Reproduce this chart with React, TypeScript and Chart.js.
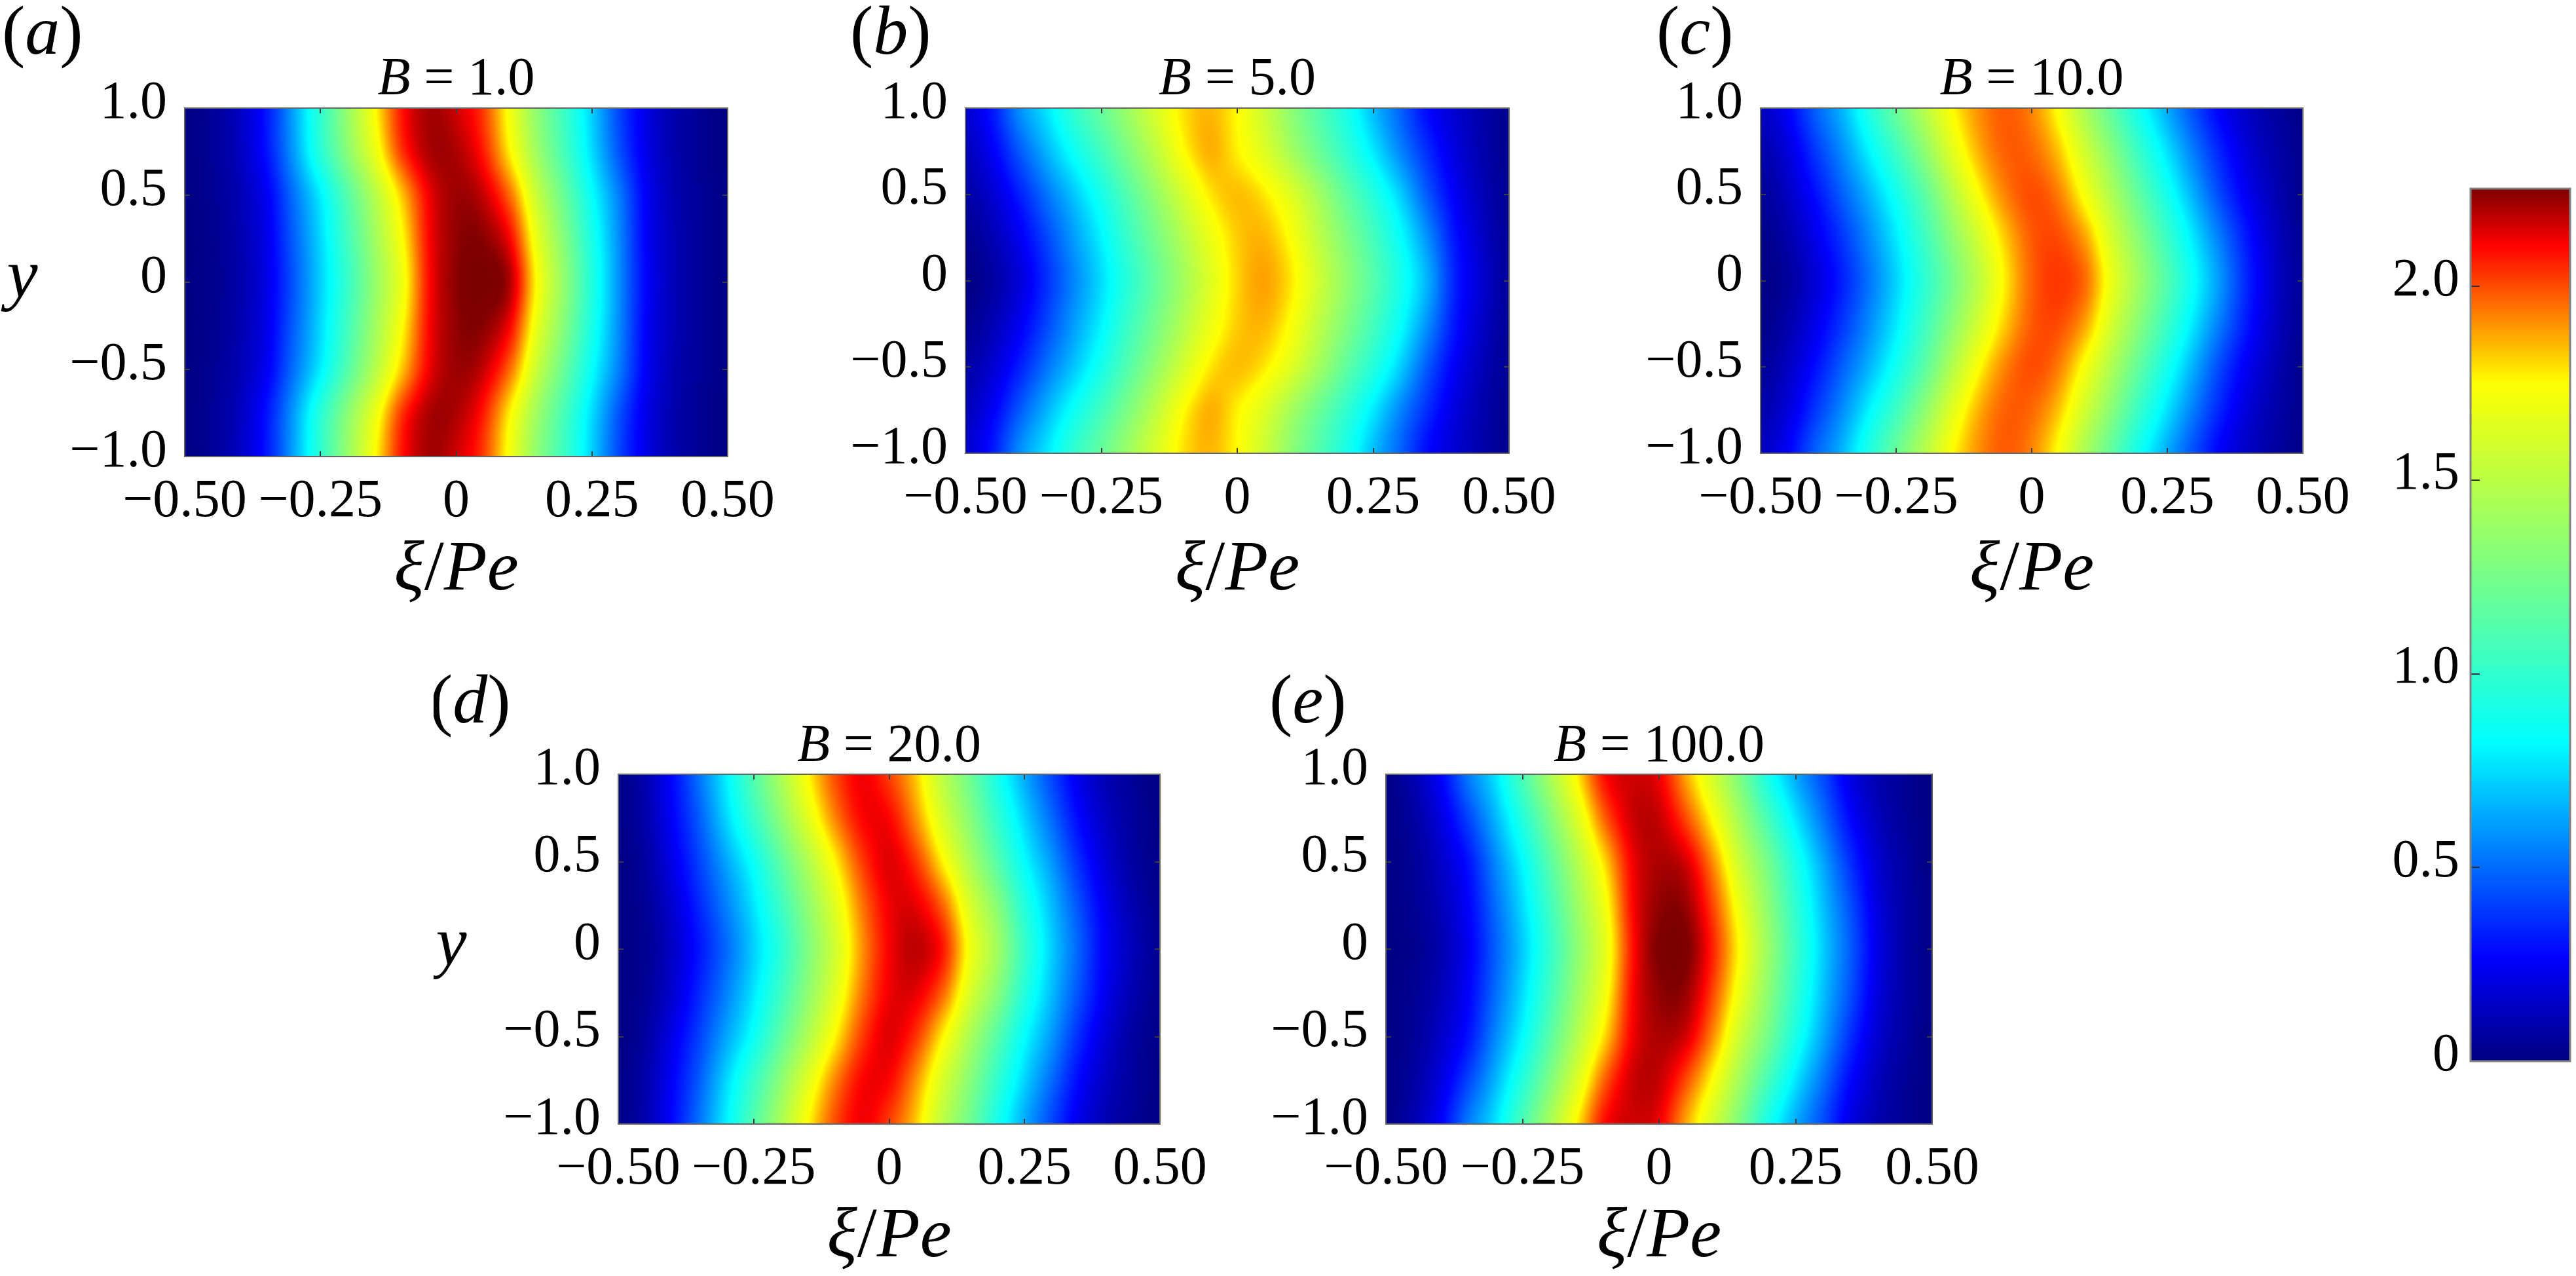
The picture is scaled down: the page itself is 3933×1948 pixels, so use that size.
import React, { useEffect, useRef } from "react";
import { Chart, registerables } from "chart.js";

Chart.register(...registerables);

const FONT = '"Liberation Serif", "Times New Roman", serif';

// xi/Pe positions of the columns
const xiColumns = [-0.5, -0.45, -0.4, -0.35, -0.3, -0.25, -0.2, -0.15, -0.1, -0.05, 0, 0.05, 0.1, 0.15, 0.2, 0.25, 0.3, 0.35, 0.4, 0.45, 0.5];
// y positions of the rows
const yRows = [1, 0.75, 0.5, 0.25, 0, -0.25, -0.5, -0.75, -1];

const xTickValues = [-0.5, -0.25, 0, 0.25, 0.5];
const xTickLabels = ["\u22120.50", "\u22120.25", "0", "0.25", "0.50"];
const yTickValues = [-1, -0.5, 0, 0.5, 1];
const yTickLabels = ["\u22121.0", "\u22120.5", "0", "0.5", "1.0"];
const barTickValues = [0, 0.5, 1, 1.5, 2];
const barTickLabels = ["0", "0.5", "1.0", "1.5", "2.0"];

// colour bar
const colorStopValues = [0, 0.267, 0.822, 1.751, 2.105, 2.252, 2.45];
const colorStopRgb = [
  [0, 0, 128],
  [0, 0, 255],
  [0, 255, 255],
  [255, 255, 0],
  [255, 0, 0],
  [128, 0, 0],
  [100, 0, 0],
];
const barMax = 2.252;

// Panel a, B = 1
const a100 = [0.01, 0.05, 0.14, 0.31, 0.62, 0.99, 1.37, 1.74, 2.08, 2.21, 2.16, 2.02, 1.7, 1.33, 1.03, 0.72, 0.42, 0.21, 0.1, 0.04, 0.01];
const a075 = [0.01, 0.05, 0.13, 0.3, 0.6, 0.96, 1.32, 1.67, 2.03, 2.2, 2.2, 2.07, 1.76, 1.39, 1.07, 0.75, 0.45, 0.22, 0.1, 0.04, 0.01];
const a050 = [0.01, 0.04, 0.11, 0.24, 0.51, 0.79, 1.13, 1.48, 1.83, 2.12, 2.22, 2.17, 1.95, 1.54, 1.19, 0.84, 0.54, 0.25, 0.11, 0.05, 0.01];
const a025 = [0.01, 0.03, 0.1, 0.22, 0.47, 0.74, 1.06, 1.4, 1.74, 2.1, 2.23, 2.24, 2.1, 1.66, 1.29, 0.91, 0.57, 0.26, 0.12, 0.05, 0.01];
const a000 = [0.01, 0.03, 0.09, 0.21, 0.45, 0.72, 1.02, 1.36, 1.69, 2.09, 2.24, 2.28, 2.19, 1.73, 1.34, 0.94, 0.58, 0.27, 0.12, 0.05, 0.01];

// Panel b, B = 5
const b100 = [0.17, 0.32, 0.58, 0.77, 1.0, 1.19, 1.4, 1.61, 1.79, 1.85, 1.75, 1.56, 1.33, 1.12, 0.91, 0.68, 0.48, 0.28, 0.17, 0.09, 0.03];
const b075 = [0.12, 0.25, 0.46, 0.66, 0.86, 1.06, 1.28, 1.51, 1.74, 1.86, 1.77, 1.63, 1.42, 1.21, 1.0, 0.78, 0.56, 0.36, 0.2, 0.1, 0.03];
const b050 = [0.08, 0.17, 0.33, 0.52, 0.7, 0.9, 1.13, 1.36, 1.59, 1.78, 1.84, 1.78, 1.63, 1.41, 1.17, 0.95, 0.72, 0.46, 0.25, 0.12, 0.04];
const b025 = [0.03, 0.11, 0.24, 0.42, 0.61, 0.8, 1.03, 1.25, 1.47, 1.68, 1.82, 1.85, 1.73, 1.51, 1.29, 1.07, 0.84, 0.58, 0.31, 0.15, 0.05];
const b000 = [0.01, 0.07, 0.19, 0.37, 0.56, 0.75, 0.97, 1.19, 1.41, 1.63, 1.81, 1.88, 1.78, 1.57, 1.35, 1.13, 0.9, 0.65, 0.34, 0.17, 0.06];

// Panel c, B = 10
const c100 = [0.13, 0.26, 0.47, 0.66, 0.93, 1.2, 1.47, 1.73, 1.9, 1.98, 1.92, 1.73, 1.43, 1.15, 0.87, 0.64, 0.43, 0.25, 0.14, 0.07, 0.02];
const c075 = [0.09, 0.19, 0.38, 0.57, 0.8, 1.04, 1.32, 1.62, 1.85, 1.97, 1.96, 1.83, 1.57, 1.3, 1.01, 0.76, 0.53, 0.33, 0.18, 0.09, 0.03];
const c050 = [0.05, 0.14, 0.29, 0.47, 0.66, 0.88, 1.14, 1.45, 1.73, 1.92, 2.0, 1.93, 1.71, 1.44, 1.16, 0.89, 0.64, 0.41, 0.23, 0.11, 0.03];
const c025 = [0.02, 0.09, 0.22, 0.38, 0.57, 0.78, 1.03, 1.31, 1.58, 1.82, 1.98, 2.0, 1.87, 1.58, 1.3, 1.03, 0.76, 0.52, 0.3, 0.14, 0.04];
const c000 = [0.01, 0.06, 0.18, 0.33, 0.52, 0.73, 0.97, 1.23, 1.5, 1.77, 1.97, 2.03, 1.95, 1.66, 1.38, 1.11, 0.83, 0.58, 0.33, 0.15, 0.05];

// Panel d, B = 20
const d100 = [0.02, 0.1, 0.28, 0.52, 0.8, 1.12, 1.44, 1.75, 2.0, 2.12, 2.02, 1.82, 1.5, 1.22, 0.9, 0.64, 0.42, 0.22, 0.11, 0.05, 0.01];
const d075 = [0.02, 0.09, 0.26, 0.47, 0.74, 1.02, 1.33, 1.64, 1.92, 2.1, 2.1, 1.9, 1.6, 1.31, 1.0, 0.73, 0.5, 0.28, 0.14, 0.06, 0.01];
const d050 = [0.01, 0.07, 0.22, 0.41, 0.63, 0.86, 1.16, 1.46, 1.76, 2.02, 2.14, 2.03, 1.76, 1.44, 1.13, 0.83, 0.6, 0.36, 0.18, 0.07, 0.02];
const d025 = [0.01, 0.05, 0.17, 0.35, 0.55, 0.77, 1.04, 1.34, 1.64, 1.94, 2.12, 2.13, 1.96, 1.61, 1.31, 0.95, 0.68, 0.44, 0.23, 0.1, 0.03];
const d000 = [0.01, 0.04, 0.15, 0.31, 0.5, 0.72, 0.97, 1.28, 1.58, 1.9, 2.11, 2.18, 2.07, 1.7, 1.4, 1.02, 0.72, 0.48, 0.25, 0.12, 0.04];

// Panel e, B = 100
const e100 = [0.01, 0.1, 0.26, 0.53, 0.76, 1.09, 1.43, 1.77, 2.09, 2.16, 2.12, 1.87, 1.58, 1.26, 0.9, 0.64, 0.43, 0.21, 0.1, 0.04, 0.01];
const e075 = [0.01, 0.07, 0.2, 0.41, 0.66, 0.95, 1.28, 1.62, 1.97, 2.16, 2.17, 2.0, 1.73, 1.4, 1.07, 0.77, 0.52, 0.28, 0.13, 0.05, 0.01];
const e050 = [0.01, 0.05, 0.15, 0.3, 0.56, 0.82, 1.14, 1.47, 1.8, 2.11, 2.2, 2.15, 1.9, 1.55, 1.24, 0.91, 0.63, 0.37, 0.17, 0.07, 0.01];
const e025 = [0.01, 0.04, 0.12, 0.26, 0.5, 0.75, 1.05, 1.38, 1.7, 2.09, 2.23, 2.22, 2.0, 1.67, 1.33, 0.99, 0.69, 0.44, 0.2, 0.08, 0.02];
const e000 = [0.01, 0.03, 0.1, 0.24, 0.47, 0.71, 1.0, 1.33, 1.65, 2.07, 2.26, 2.26, 2.05, 1.73, 1.38, 1.03, 0.72, 0.47, 0.22, 0.08, 0.02];

const panelRows = [
  [a100, a075, a050, a025, a000, a025, a050, a075, a100],
  [b100, b075, b050, b025, b000, b025, b050, b075, b100],
  [c100, c075, c050, c025, c000, c025, c050, c075, c100],
  [d100, d075, d050, d025, d000, d025, d050, d075, d100],
  [e100, e075, e050, e025, e000, e025, e050, e075, e100],
];

const panelLetters = ["a", "b", "c", "d", "e"];
const panelB = ["1.0", "5.0", "10.0", "20.0", "100.0"];
const panelHasY = [true, false, false, true, false];

// layout in page pixels: left, top, right, bottom of the plot
const panelBoxes = [
  [282, 165, 1111, 697],
  [1474, 165, 2304, 692],
  [2688, 165, 3516, 692],
  [944, 1182, 1771, 1716],
  [2116, 1182, 2950, 1716],
];
const letterLeft = [3, 1298, 2529, 656, 1938];
const letterBaseline = [82, 82, 82, 1103, 1103];
const xLabelBaseline = [900, 900, 900, 1918, 1918];
const yLabelCenter = [34, 0, 0, 689, 0];
const yLabelBaseline = [453, 0, 0, 1472, 0];
const titleGap = [21, 21, 21, 20, 20];
const MARGIN = { left: 282, top: 165, right: 117, bottom: 232 };
const BAR_BOX = [3772, 288, 3924, 1620];
const BAR_MARGIN = { left: 212, top: 88, right: 9, bottom: 88 };

const TICK_PX = 82;
const LABEL_PX = 108;
const LETTER_PX = 106;
const lookup = (values: number[], labels: string[], v: number) => {
  const i = values.findIndex((w) => Math.abs(w - v) < 1e-6);
  return i < 0 ? null : labels[i];
};

function colorAt(v: number): number[] {
  const s = colorStopValues;
  if (v <= s[0]) return colorStopRgb[0];
  for (let i = 1; i < s.length; i++) {
    if (v <= s[i]) {
      const t = (v - s[i - 1]) / (s[i] - s[i - 1]);
      const a = colorStopRgb[i - 1];
      const b = colorStopRgb[i];
      return [a[0] + (b[0] - a[0]) * t, a[1] + (b[1] - a[1]) * t, a[2] + (b[2] - a[2]) * t];
    }
  }
  return colorStopRgb[s.length - 1];
}

const cubic = (p0: number, p1: number, p2: number, p3: number, t: number) =>
  p1 + 0.5 * t * (p2 - p0 + t * (2 * p0 - 5 * p1 + 4 * p2 - p3 + t * (3 * (p1 - p2) + p3 - p0)));

const fieldPlugin = {
  id: "field",
  beforeDatasetsDraw(chart: any) {
    const cells = chart.data.datasets[0].data as { x: number; y: number; v: number }[];
    const nc = xiColumns.length;
    const nr = yRows.length;
    const val = (r: number, c: number) => cells[Math.max(0, Math.min(nr - 1, r)) * nc + c].v;
    const { left, top, width, height } = chart.chartArea;
    const w = Math.round(width);
    const h = Math.round(height);
    const off = document.createElement("canvas");
    off.width = w;
    off.height = h;
    const octx = off.getContext("2d")!;
    const img = octx.createImageData(w, h);
    const xs = chart.scales.x;
    const ys = chart.scales.y;
    const colPos: number[] = [];
    for (let px = 0; px < w; px++) {
      const xi = xs.getValueForPixel(left + px + 0.5);
      colPos.push(((xi - xiColumns[0]) / (xiColumns[nc - 1] - xiColumns[0])) * (nc - 1));
    }
    const line = new Array(nc).fill(0);
    for (let py = 0; py < h; py++) {
      const yv = ys.getValueForPixel(top + py + 0.5);
      const rp = Math.max(0, Math.min(nr - 1.0001, ((yRows[0] - yv) / (yRows[0] - yRows[nr - 1])) * (nr - 1)));
      const r = Math.floor(rp);
      const rt = rp - r;
      for (let c = 0; c < nc; c++) line[c] = cubic(val(r - 1, c), val(r, c), val(r + 1, c), val(r + 2, c), rt);
      for (let px = 0; px < w; px++) {
        const cp = Math.max(0, Math.min(nc - 1.0001, colPos[px]));
        const c = Math.floor(cp);
        const v = cubic(line[Math.max(0, c - 1)], line[c], line[c + 1], line[Math.min(nc - 1, c + 2)], cp - c);
        const rgb = colorAt(v);
        const k = (py * w + px) * 4;
        img.data[k] = rgb[0];
        img.data[k + 1] = rgb[1];
        img.data[k + 2] = rgb[2];
        img.data[k + 3] = 255;
      }
    }
    octx.putImageData(img, 0, 0);
    chart.ctx.drawImage(off, left, top, width, height);
  },
};

const framePlugin = {
  id: "frame",
  afterDatasetsDraw(chart: any) {
    const { ctx, chartArea: a } = chart;
    const { x, y } = chart.scales;
    ctx.save();
    ctx.strokeStyle = "#3c3c3c";
    ctx.lineWidth = 2;
    ctx.beginPath();
    for (const t of x.ticks) {
      const p = Math.round(x.getPixelForValue(t.value));
      const len = lookup(xTickValues, xTickLabels, t.value) !== null ? 8 : 5;
      ctx.moveTo(p, a.bottom);
      ctx.lineTo(p, a.bottom - len);
      ctx.moveTo(p, a.top);
      ctx.lineTo(p, a.top + len);
    }
    for (const t of y.ticks) {
      const p = Math.round(y.getPixelForValue(t.value));
      const len = lookup(yTickValues, yTickLabels, t.value) !== null ? 8 : 5;
      ctx.moveTo(a.left, p);
      ctx.lineTo(a.left + len, p);
      ctx.moveTo(a.right, p);
      ctx.lineTo(a.right - len, p);
    }
    ctx.stroke();
    ctx.strokeStyle = "#666666";
    ctx.lineWidth = 2;
    ctx.strokeRect(a.left, a.top, a.right - a.left, a.bottom - a.top);
    ctx.restore();
  },
};

type Run = { t: string; i: boolean };

function drawRuns(ctx: CanvasRenderingContext2D, runs: Run[], size: number, x: number, y: number, center: boolean) {
  const fontOf = (r: Run) => `${r.i ? "italic " : ""}${size}px ${FONT}`;
  let total = 0;
  for (const r of runs) {
    ctx.font = fontOf(r);
    total += ctx.measureText(r.t).width;
  }
  let cx = center ? x - total / 2 : x;
  ctx.textAlign = "left";
  ctx.textBaseline = "alphabetic";
  ctx.fillStyle = "#000000";
  for (const r of runs) {
    ctx.font = fontOf(r);
    ctx.fillText(r.t, cx, y);
    cx += ctx.measureText(r.t).width;
  }
}

function textPlugin(i: number, originX: number, originY: number) {
  return {
    id: "panelText",
    afterDraw(chart: any) {
      const { ctx, chartArea: a } = chart;
      const cx = (a.left + a.right) / 2;
      ctx.save();
      drawRuns(ctx, [{ t: "B", i: true }, { t: " = " + panelB[i], i: false }], TICK_PX, cx, a.top - titleGap[i], true);
      drawRuns(ctx, [{ t: "\u03BE", i: true }, { t: "/", i: false }, { t: "Pe", i: true }], LABEL_PX, cx, xLabelBaseline[i] - originY, true);
      drawRuns(ctx, [{ t: "(", i: false }, { t: panelLetters[i], i: true }, { t: ")", i: false }], LETTER_PX, letterLeft[i] - originX, letterBaseline[i] - originY, false);
      if (panelHasY[i]) {
        drawRuns(ctx, [{ t: "y", i: true }], LETTER_PX, yLabelCenter[i] - originX, yLabelBaseline[i] - originY, true);
      }
      ctx.restore();
    },
  };
}

const colorBarPlugin = {
  id: "colorBar",
  beforeDatasetsDraw(chart: any) {
    const { ctx, chartArea: a } = chart;
    const y = chart.scales.y;
    const g = ctx.createLinearGradient(0, y.getPixelForValue(0), 0, y.getPixelForValue(barMax));
    for (let i = 0; i < colorStopValues.length; i++) {
      if (colorStopValues[i] > barMax) break;
      const c = colorStopRgb[i];
      g.addColorStop(colorStopValues[i] / barMax, `rgb(${c[0]},${c[1]},${c[2]})`);
    }
    ctx.fillStyle = g;
    ctx.fillRect(a.left, a.top, a.right - a.left, a.bottom - a.top);
  },
  afterDatasetsDraw(chart: any) {
    const { ctx, chartArea: a } = chart;
    const y = chart.scales.y;
    ctx.save();
    ctx.strokeStyle = "#333333";
    ctx.lineWidth = 2;
    ctx.beginPath();
    for (const t of y.ticks) {
      const p = Math.round(y.getPixelForValue(t.value));
      if (t.value > 0) {
        ctx.moveTo(a.left, p);
        ctx.lineTo(a.left + 14, p);
      }
    }
    ctx.stroke();
    ctx.strokeStyle = "#808080";
    ctx.lineWidth = 3;
    ctx.strokeRect(a.left, a.top, a.right - a.left, a.bottom - a.top);
    ctx.restore();
  },
};

const tickFont = { family: FONT, size: TICK_PX, lineHeight: 14 / TICK_PX };

function panelConfig(i: number) {
  const b = panelBoxes[i];
  const originX = b[0] - MARGIN.left;
  const originY = b[1] - MARGIN.top;
  const data: { x: number; y: number; v: number }[] = [];
  panelRows[i].forEach((row, r) => row.forEach((v, c) => data.push({ x: xiColumns[c], y: yRows[r], v })));
  return {
    type: "scatter",
    data: { datasets: [{ label: "B = " + panelB[i], data, pointRadius: 0, showLine: false }] },
    plugins: [fieldPlugin, framePlugin, textPlugin(i, originX, originY)],
    options: {
      animation: false,
      responsive: false,
      devicePixelRatio: 1,
      layout: { padding: { left: 0, top: MARGIN.top, right: MARGIN.right, bottom: 0 } },
      plugins: { legend: { display: false }, tooltip: { enabled: false }, title: { display: false } },
      scales: {
        x: {
          type: "linear",
          min: -0.5,
          max: 0.5,
          afterFit: (s: any) => {
            s.height = MARGIN.bottom;
          },
          grid: { display: false, drawTicks: false },
          border: { display: false },
          ticks: {
            stepSize: 0.05,
            autoSkip: false,
            maxRotation: 0,
            minRotation: 0,
            padding: 20,
            color: "#000",
            font: { family: FONT, size: TICK_PX },
            callback: (v: number) => lookup(xTickValues, xTickLabels, v),
          },
        },
        y: {
          type: "linear",
          min: -1,
          max: 1,
          afterFit: (s: any) => {
            s.width = MARGIN.left;
          },
          grid: { display: false, drawTicks: false },
          border: { display: false },
          ticks: {
            stepSize: 0.1,
            autoSkip: false,
            padding: 27,
            color: "#000",
            font: tickFont,
            callback: (v: number) => {
              const l = lookup(yTickValues, yTickLabels, v);
              return l === null ? null : [l, ""];
            },
          },
        },
      },
    },
  };
}

function barConfig() {
  return {
    type: "scatter",
    data: {
      datasets: [
        {
          label: "colour scale",
          data: colorStopValues.filter((v) => v <= barMax).map((v) => ({ x: 0.5, y: v })),
          pointRadius: 0,
          showLine: false,
        },
      ],
    },
    plugins: [colorBarPlugin],
    options: {
      animation: false,
      responsive: false,
      devicePixelRatio: 1,
      layout: { padding: { left: 0, top: BAR_MARGIN.top, right: BAR_MARGIN.right, bottom: 0 } },
      plugins: { legend: { display: false }, tooltip: { enabled: false } },
      scales: {
        x: {
          type: "linear",
          min: 0,
          max: 1,
          afterFit: (s: any) => {
            s.height = BAR_MARGIN.bottom;
          },
          grid: { display: false, drawTicks: false },
          border: { display: false },
          ticks: { callback: () => null },
        },
        y: {
          type: "linear",
          min: 0,
          max: barMax,
          afterFit: (s: any) => {
            s.width = BAR_MARGIN.left;
          },
          grid: { display: false, drawTicks: false },
          border: { display: false },
          ticks: {
            stepSize: 0.5,
            includeBounds: false,
            autoSkip: false,
            padding: 17,
            color: "#000",
            font: { family: FONT, size: TICK_PX, lineHeight: 16 / TICK_PX },
            callback: (v: number) => {
              const l = lookup(barTickValues, barTickLabels, v);
              return l === null ? null : [l, ""];
            },
          },
        },
      },
    },
  };
}

export default function App() {
  const refs = useRef<(HTMLCanvasElement | null)[]>([]);
  useEffect(() => {
    const charts: Chart[] = [];
    panelBoxes.forEach((_, i) => {
      charts.push(new Chart(refs.current[i]!, panelConfig(i) as any));
    });
    charts.push(new Chart(refs.current[panelBoxes.length]!, barConfig() as any));
    return () => charts.forEach((c) => c.destroy());
  }, []);

  return (
    <div style={{ position: "absolute", left: 0, top: 0, width: 3933, height: 1948, overflow: "hidden", background: "#fff" }}>
      {panelBoxes.map((b, i) => (
        <canvas
          key={i}
          ref={(el) => {
            refs.current[i] = el;
          }}
          width={b[2] - b[0] + MARGIN.left + MARGIN.right}
          height={b[3] - b[1] + MARGIN.top + MARGIN.bottom}
          style={{ position: "absolute", left: b[0] - MARGIN.left, top: b[1] - MARGIN.top }}
        />
      ))}
      <canvas
        ref={(el) => {
          refs.current[panelBoxes.length] = el;
        }}
        width={BAR_BOX[2] - BAR_BOX[0] + BAR_MARGIN.left + BAR_MARGIN.right}
        height={BAR_BOX[3] - BAR_BOX[1] + BAR_MARGIN.top + BAR_MARGIN.bottom}
        style={{ position: "absolute", left: BAR_BOX[0] - BAR_MARGIN.left, top: BAR_BOX[1] - BAR_MARGIN.top }}
      />
    </div>
  );
}
